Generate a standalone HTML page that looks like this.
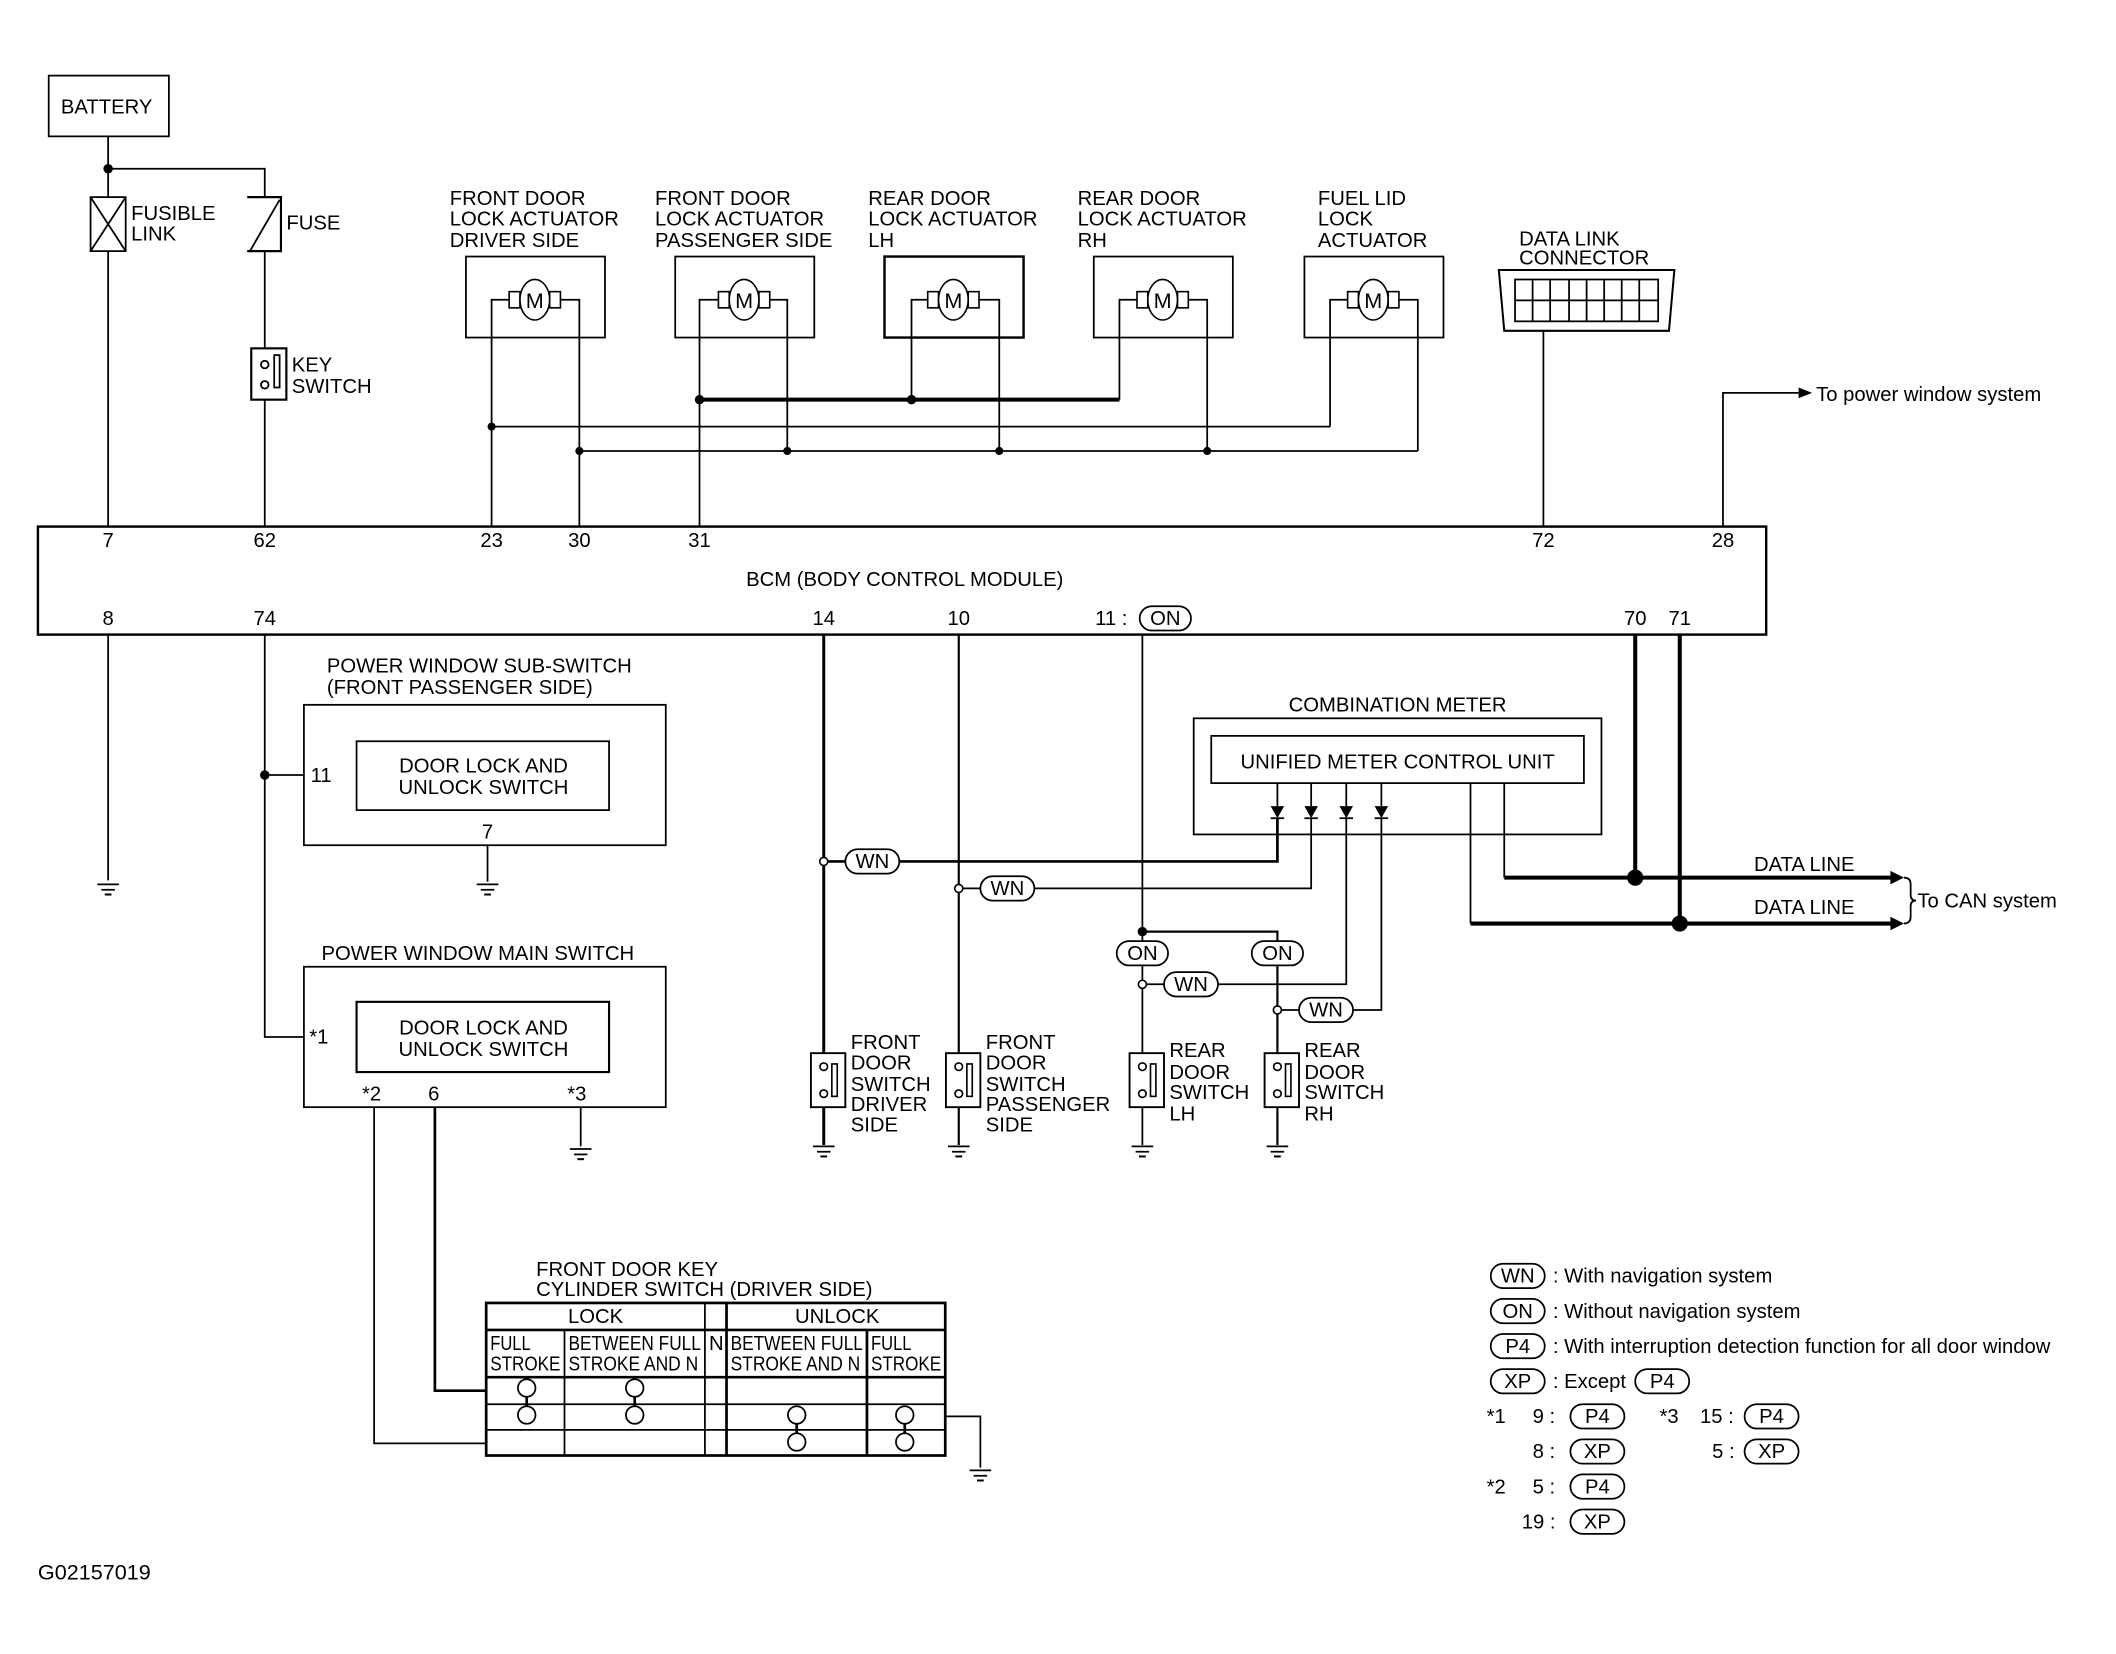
<!DOCTYPE html>
<html><head><meta charset="utf-8"><style>
html,body{margin:0;padding:0;background:#fff;}
svg{display:block;}
text{font-family:"Liberation Sans",sans-serif;font-size:15px;fill:#000;}
</style></head><body>
<svg width="2116" height="1654" viewBox="0 0 1567 1225" xmlns="http://www.w3.org/2000/svg">
<defs>
<g id="gnd"><line x1="-8" y1="0" x2="8" y2="0" stroke="#000" stroke-width="1.3"/><line x1="-5" y1="4" x2="5" y2="4" stroke="#000" stroke-width="1.3"/><line x1="-2.5" y1="7.5" x2="2.5" y2="7.5" stroke="#000" stroke-width="1.5"/></g>
<g id="mot"><rect x="-19" y="-6" width="8" height="12" fill="#fff" stroke="#000" stroke-width="1.2"/><rect x="11" y="-6" width="8" height="12" fill="#fff" stroke="#000" stroke-width="1.2"/><ellipse cx="0" cy="0" rx="11" ry="15" fill="#fff" stroke="#000" stroke-width="1.2"/><text x="0" y="6" text-anchor="middle" style="font-size:16px">M</text></g>
<g id="dsw"><rect x="-9.5" y="0" width="25.5" height="40" fill="#fff" stroke="#000" stroke-width="1.4"/><circle cx="0" cy="10" r="2.8" fill="#fff" stroke="#000" stroke-width="1.2"/><circle cx="0" cy="30" r="2.8" fill="#fff" stroke="#000" stroke-width="1.2"/><rect x="6" y="8" width="4" height="24" fill="#fff" stroke="#000" stroke-width="1.2"/></g>
<g id="diode"><polygon points="-5,-5 5,-5 0,4" fill="#000"/><line x1="-5" y1="4" x2="5" y2="4" stroke="#000" stroke-width="1.3"/></g>
</defs>
<g stroke="#000" stroke-width="1.3" fill="none">
<rect x="36" y="56" width="89" height="45"/>
<line x1="80" y1="101" x2="80" y2="390"/>
<polyline points="80,125 196,125 196,390"/>
<rect x="67" y="146" width="26" height="40" fill="#fff"/>
<line x1="67" y1="146" x2="93" y2="186"/><line x1="93" y1="146" x2="67" y2="186"/>
<path d="M183,146 H208 V186 H183" fill="#fff" stroke-width="1.6"/>
<line x1="207" y1="148" x2="185" y2="186"/>
<rect x="186" y="258" width="26" height="38" fill="#fff" stroke-width="1.6"/>
<circle cx="196" cy="270" r="2.8" fill="#fff"/><circle cx="196" cy="285" r="2.8" fill="#fff"/>
<rect x="203" y="263" width="4" height="24"/>
<rect x="345" y="190" width="103" height="60"/>
<rect x="500" y="190" width="103" height="60"/>
<rect x="655" y="190" width="103" height="60" stroke-width="1.8"/>
<rect x="810" y="190" width="103" height="60"/>
<rect x="966" y="190" width="103" height="60"/>
<polyline points="377,222 364,222 364,390"/><polyline points="415,222 429,222 429,390"/>
<polyline points="532,222 518,222 518,390"/><polyline points="570,222 583,222 583,334"/>
<polyline points="687,222 675,222 675,296"/><polyline points="725,222 740,222 740,334"/>
<polyline points="842,222 829,222 829,296"/><polyline points="880,222 894,222 894,334"/>
<polyline points="998,222 985,222 985,316"/><polyline points="1036,222 1050,222 1050,334"/>
<line x1="518" y1="296" x2="829" y2="296" stroke-width="3"/>
<line x1="364" y1="316" x2="985" y2="316"/>
<line x1="429" y1="334" x2="1050" y2="334"/>
<path d="M1110,200 H1240 L1236,245 H1114 Z" stroke-width="1.5"/>
<rect x="1122" y="207" width="106" height="31"/>
<line x1="1122" y1="222.5" x2="1228" y2="222.5"/>
<line x1="1135" y1="207" x2="1135" y2="238"/><line x1="1148" y1="207" x2="1148" y2="238"/><line x1="1162" y1="207" x2="1162" y2="238"/><line x1="1175" y1="207" x2="1175" y2="238"/><line x1="1188" y1="207" x2="1188" y2="238"/><line x1="1201" y1="207" x2="1201" y2="238"/><line x1="1214" y1="207" x2="1214" y2="238"/>
<line x1="1143" y1="245" x2="1143" y2="390"/>
<polyline points="1276,390 1276,291 1332,291"/>
<rect x="28" y="390" width="1280" height="80" stroke-width="1.8"/>
<line x1="80" y1="470" x2="80" y2="652"/>
<polyline points="196,470 196,768 225,768"/>
<line x1="196" y1="574" x2="225" y2="574"/>
<rect x="225" y="522" width="268" height="104"/>
<rect x="264" y="549" width="187" height="51"/>
<line x1="361" y1="626" x2="361" y2="653"/>
<rect x="225" y="716" width="268" height="104"/>
<rect x="264" y="742" width="187" height="52" stroke-width="1.6"/>
<line x1="430" y1="820" x2="430" y2="849"/>
<polyline points="277,820 277,1069 360,1069"/>
<polyline points="322,820 322,1030 360,1030" stroke-width="2"/>
<rect x="360" y="965" width="340" height="113" stroke-width="2"/>
<line x1="360" y1="985" x2="700" y2="985" stroke-width="2"/>
<line x1="360" y1="1020" x2="700" y2="1020" stroke-width="2"/>
<line x1="360" y1="1040" x2="700" y2="1040"/>
<line x1="360" y1="1059" x2="700" y2="1059"/>
<line x1="418" y1="985" x2="418" y2="1078"/>
<line x1="522" y1="965" x2="522" y2="1078"/>
<line x1="538" y1="965" x2="538" y2="1078" stroke-width="2"/>
<line x1="642" y1="985" x2="642" y2="1078" stroke-width="2"/>
<polyline points="700,1049 726,1049 726,1087"/>
<circle cx="390" cy="1028" r="6.5"/><circle cx="390" cy="1048" r="6.5"/><line x1="390" y1="1034" x2="390" y2="1042" stroke-width="2"/>
<circle cx="470" cy="1028" r="6.5"/><circle cx="470" cy="1048" r="6.5"/><line x1="470" y1="1034" x2="470" y2="1042" stroke-width="2"/>
<circle cx="590" cy="1048" r="6.5"/><circle cx="590" cy="1068" r="6.5"/><line x1="590" y1="1054" x2="590" y2="1062" stroke-width="2"/>
<circle cx="670" cy="1048" r="6.5"/><circle cx="670" cy="1068" r="6.5"/><line x1="670" y1="1054" x2="670" y2="1062" stroke-width="2"/>
<line x1="610" y1="470" x2="610" y2="848" stroke-width="2.2"/>
<line x1="710" y1="470" x2="710" y2="848" stroke-width="1.6"/>
<line x1="846" y1="470" x2="846" y2="848"/>
<polyline points="846,690 946,690 946,848" stroke-width="1.6"/>
<polyline points="613,638 946,638 946,606" stroke-width="2"/>
<polyline points="713,658 971,658 971,606"/>
<polyline points="849,729 997,729 997,606"/>
<polyline points="949,748 1023,748 1023,606"/>
<rect x="884" y="532" width="302" height="86"/>
<rect x="897" y="545" width="276" height="35"/>
<line x1="946" y1="580" x2="946" y2="597"/><line x1="971" y1="580" x2="971" y2="597"/><line x1="997" y1="580" x2="997" y2="597"/><line x1="1023" y1="580" x2="1023" y2="597"/>
<polyline points="1114,580 1114,650"/>
<polyline points="1089,580 1089,684"/>
<line x1="1114" y1="650" x2="1402" y2="650" stroke-width="3"/>
<line x1="1089" y1="684" x2="1402" y2="684" stroke-width="3"/>
<line x1="1211" y1="470" x2="1211" y2="650" stroke-width="3"/>
<line x1="1244" y1="470" x2="1244" y2="684" stroke-width="3"/>
<path d="M1410,650 q5,0 5,5 v8 q0,4 4,4 q-4,0 -4,4 v8 q0,5 -5,5"/>
</g>
<g fill="#000">
<circle cx="80" cy="125" r="3.5"/>
<circle cx="364" cy="316" r="3"/><circle cx="429" cy="334" r="3"/><circle cx="518" cy="296" r="3.5"/><circle cx="675" cy="296" r="3.5"/>
<circle cx="583" cy="334" r="3"/><circle cx="740" cy="334" r="3"/><circle cx="894" cy="334" r="3"/>
<circle cx="196" cy="574" r="3.5"/>
<circle cx="846" cy="690" r="3.5"/>
<circle cx="1211" cy="650" r="6"/><circle cx="1244" cy="684" r="6"/>
<polygon points="1332,287 1342,291 1332,295"/>
<polygon points="1400,645 1410,650 1400,655"/>
<polygon points="1400,679 1410,684 1400,689"/>
</g>
<g fill="#fff" stroke="#000" stroke-width="1.2">
<circle cx="610" cy="638" r="3"/><circle cx="710" cy="658" r="3"/><circle cx="846" cy="729" r="3"/><circle cx="946" cy="748" r="3"/>
</g>
<use href="#mot" x="396" y="222"/><use href="#mot" x="551" y="222"/><use href="#mot" x="706" y="222"/><use href="#mot" x="861" y="222"/><use href="#mot" x="1017" y="222"/>
<use href="#diode" x="946" y="602"/><use href="#diode" x="971" y="602"/><use href="#diode" x="997" y="602"/><use href="#diode" x="1023" y="602"/>
<use href="#dsw" x="610" y="780"/><use href="#dsw" x="710" y="780"/><use href="#dsw" x="846" y="780"/><use href="#dsw" x="946" y="780"/>
<use href="#gnd" x="80" y="655"/><use href="#gnd" x="361" y="655"/><use href="#gnd" x="430" y="851"/><use href="#gnd" x="726" y="1089"/>
<use href="#gnd" x="610" y="849"/><use href="#gnd" x="710" y="849"/><use href="#gnd" x="846" y="849"/><use href="#gnd" x="946" y="849"/>
<g fill="#fff" stroke="#000" stroke-width="1.3">
<rect x="844" y="449" width="38" height="18" rx="9"/>
<rect x="626" y="629" width="40" height="18" rx="9"/>
<rect x="726" y="649" width="40" height="18" rx="9"/>
<rect x="827" y="697" width="38" height="18" rx="9"/>
<rect x="927" y="697" width="38" height="18" rx="9"/>
<rect x="862" y="720" width="40" height="18" rx="9"/>
<rect x="962" y="739" width="40" height="18" rx="9"/>
<rect x="1104" y="936" width="40" height="18" rx="9"/>
<rect x="1104" y="962" width="40" height="18" rx="9"/>
<rect x="1104" y="988" width="40" height="18" rx="9"/>
<rect x="1104" y="1014" width="40" height="18" rx="9"/>
<rect x="1211" y="1014" width="40" height="18" rx="9"/>
<rect x="1163" y="1040" width="40" height="18" rx="9"/>
<rect x="1292" y="1040" width="40" height="18" rx="9"/>
<rect x="1163" y="1066" width="40" height="18" rx="9"/>
<rect x="1292" y="1066" width="40" height="18" rx="9"/>
<rect x="1163" y="1092" width="40" height="18" rx="9"/>
<rect x="1163" y="1118" width="40" height="18" rx="9"/>
</g>
<g text-anchor="middle">
<text x="863" y="463">ON</text><text x="646" y="643">WN</text><text x="746" y="663">WN</text>
<text x="846" y="711">ON</text><text x="946" y="711">ON</text><text x="882" y="734">WN</text><text x="982" y="753">WN</text>
<text x="1124" y="950">WN</text><text x="1124" y="976">ON</text><text x="1124" y="1002">P4</text><text x="1124" y="1028">XP</text><text x="1231" y="1028">P4</text>
<text x="1183" y="1054">P4</text><text x="1312" y="1054">P4</text><text x="1183" y="1080">XP</text><text x="1312" y="1080">XP</text>
<text x="1183" y="1106">P4</text><text x="1183" y="1132">XP</text>
</g>
<text x="45" y="84">BATTERY</text>
<text x="97" y="163">FUSIBLE</text><text x="97" y="178">LINK</text>
<text x="212" y="170">FUSE</text>
<text x="216" y="275">KEY</text><text x="216" y="291">SWITCH</text>
<text x="333" y="152">FRONT DOOR</text><text x="333" y="167">LOCK ACTUATOR</text><text x="333" y="183">DRIVER SIDE</text>
<text x="485" y="152">FRONT DOOR</text><text x="485" y="167">LOCK ACTUATOR</text><text x="485" y="183">PASSENGER SIDE</text>
<text x="643" y="152">REAR DOOR</text><text x="643" y="167">LOCK ACTUATOR</text><text x="643" y="183">LH</text>
<text x="798" y="152">REAR DOOR</text><text x="798" y="167">LOCK ACTUATOR</text><text x="798" y="183">RH</text>
<text x="976" y="152">FUEL LID</text><text x="976" y="167">LOCK</text><text x="976" y="183">ACTUATOR</text>
<text x="1125" y="182">DATA LINK</text><text x="1125" y="196">CONNECTOR</text>
<text x="1345" y="297">To power window system</text>
<g text-anchor="middle">
<text x="80" y="405">7</text><text x="196" y="405">62</text><text x="364" y="405">23</text><text x="429" y="405">30</text><text x="518" y="405">31</text><text x="1143" y="405">72</text><text x="1276" y="405">28</text>
<text x="80" y="463">8</text><text x="196" y="463">74</text><text x="610" y="463">14</text><text x="710" y="463">10</text><text x="1211" y="463">70</text><text x="1244" y="463">71</text>
<text x="670" y="434">BCM (BODY CONTROL MODULE)</text>
<text x="358" y="572">DOOR LOCK AND</text><text x="358" y="588">UNLOCK SWITCH</text>
<text x="358" y="766">DOOR LOCK AND</text><text x="358" y="782">UNLOCK SWITCH</text>
<text x="361" y="621">7</text>
<text x="1035" y="527">COMBINATION METER</text>
<text x="1035" y="569">UNIFIED METER CONTROL UNIT</text>
<text x="441" y="980">LOCK</text><text x="620" y="980">UNLOCK</text>
</g>
<text x="811" y="463">11 :</text>
<text x="242" y="498">POWER WINDOW SUB-SWITCH</text><text x="242" y="514">(FRONT PASSENGER SIDE)</text>
<text x="230" y="579">11</text>
<text x="238" y="711">POWER WINDOW MAIN SWITCH</text>
<text x="229" y="773">*1</text><text x="268" y="815">*2</text><text x="317" y="815">6</text><text x="420" y="815">*3</text>
<text x="397" y="945">FRONT DOOR KEY</text><text x="397" y="960">CYLINDER SWITCH (DRIVER SIDE)</text>
<g style="font-size:14px">
<text x="363" y="1000" textLength="30" lengthAdjust="spacingAndGlyphs">FULL</text><text x="363" y="1015" textLength="52" lengthAdjust="spacingAndGlyphs">STROKE</text>
<text x="421" y="1000" textLength="98" lengthAdjust="spacingAndGlyphs">BETWEEN FULL</text><text x="421" y="1015" textLength="96" lengthAdjust="spacingAndGlyphs">STROKE AND N</text>
<text x="525" y="1000">N</text>
<text x="541" y="1000" textLength="98" lengthAdjust="spacingAndGlyphs">BETWEEN FULL</text><text x="541" y="1015" textLength="96" lengthAdjust="spacingAndGlyphs">STROKE AND N</text>
<text x="645" y="1000" textLength="30" lengthAdjust="spacingAndGlyphs">FULL</text><text x="645" y="1015" textLength="52" lengthAdjust="spacingAndGlyphs">STROKE</text>
</g>
<text x="630" y="777">FRONT</text><text x="630" y="792">DOOR</text><text x="630" y="808">SWITCH</text><text x="630" y="823">DRIVER</text><text x="630" y="838">SIDE</text>
<text x="730" y="777">FRONT</text><text x="730" y="792">DOOR</text><text x="730" y="808">SWITCH</text><text x="730" y="823">PASSENGER</text><text x="730" y="838">SIDE</text>
<text x="866" y="783">REAR</text><text x="866" y="799">DOOR</text><text x="866" y="814">SWITCH</text><text x="866" y="830">LH</text>
<text x="966" y="783">REAR</text><text x="966" y="799">DOOR</text><text x="966" y="814">SWITCH</text><text x="966" y="830">RH</text>
<text x="1299" y="645">DATA LINE</text><text x="1299" y="677">DATA LINE</text>
<text x="1420" y="672">To CAN system</text>
<text x="1150" y="950">: With navigation system</text>
<text x="1150" y="976">: Without navigation system</text>
<text x="1150" y="1002">: With interruption detection function for all door window</text>
<text x="1150" y="1028">: Except</text>
<text x="1101" y="1054">*1</text><text x="1135" y="1054">9 :</text><text x="1229" y="1054">*3</text><text x="1259" y="1054">15 :</text>
<text x="1135" y="1080">8 :</text><text x="1268" y="1080">5 :</text>
<text x="1101" y="1106">*2</text><text x="1135" y="1106">5 :</text>
<text x="1127" y="1132">19 :</text>
<text x="28" y="1170" style="font-size:16px">G02157019</text>
</svg>
</body></html>
